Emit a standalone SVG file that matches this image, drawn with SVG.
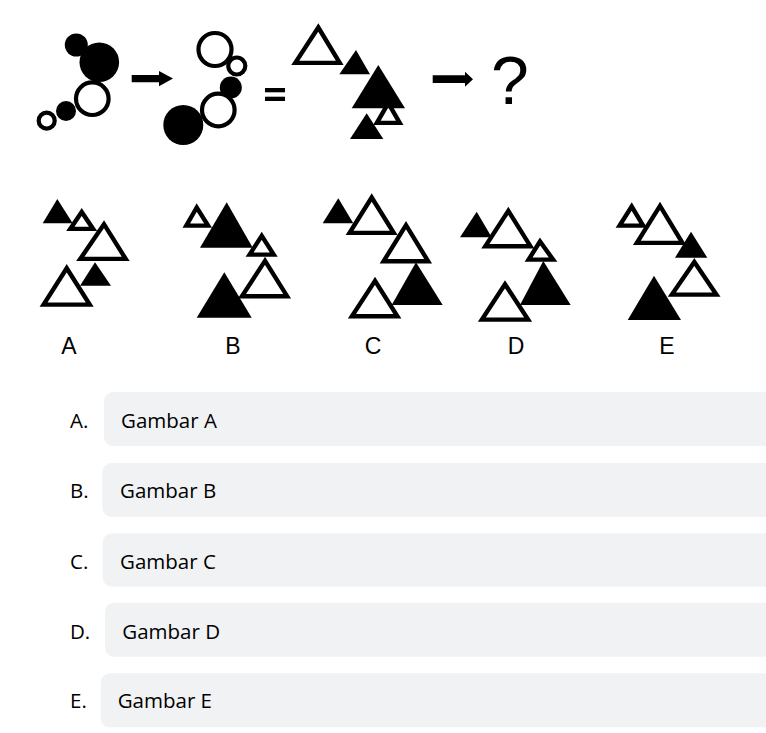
<svg xmlns="http://www.w3.org/2000/svg" width="766" height="733" viewBox="0 0 766 733">
<style>
.b{fill:#000}
.w{fill:#fff;stroke:#000;stroke-width:4.4;stroke-linejoin:miter}
.wc{fill:#fff;stroke:#000;stroke-width:4.2}
.lbl{font-family:"Liberation Sans",Arial,sans-serif;font-size:23px;fill:#000;text-anchor:middle}
.opt{font-family:"Open Sans","Noto Sans",sans-serif;font-size:20.5px;fill:#000}
.box{fill:#f1f2f4}
</style>
<rect width="766" height="733" fill="#fff"/>
<g id="question">
  <g id="fig1">
    <circle class="b" cx="76.3" cy="45" r="11.5"/>
    <circle class="b" cx="99.3" cy="62.2" r="19.8"/>
    <circle class="b" cx="66" cy="111" r="10"/>
    <circle class="wc" cx="92.3" cy="98.7" r="16.3"/>
    <circle class="wc" cx="46.7" cy="120.7" r="8"/>
  </g>
  <path id="arrow1" class="b" d="M131.7,75 H159 V71 L173,78.6 L159,86.2 V82.2 H131.7 Z"/>
  <g id="fig2">
    <circle class="b" cx="230.8" cy="87.5" r="11"/>
    <circle class="b" cx="183.3" cy="125" r="20"/>
    <circle class="wc" cx="215" cy="49.5" r="16.5"/>
    <circle class="wc" cx="236.8" cy="66" r="8.5"/>
    <circle class="wc" cx="218.3" cy="110" r="16.3"/>
  </g>
  <g id="equals" class="b">
    <rect x="265" y="88" width="20" height="4.3"/>
    <rect x="265" y="96.7" width="20" height="4.3"/>
  </g>
  <g id="fig3">
    <polygon class="w" points="318.3,27.5 295.3,62.9 339.7,62.9"/>
    <polygon class="b" points="356,50 339.3,74.3 370,74.3"/>
    <polygon class="w" points="388.3,103.2 376.9,122.9 399.7,122.9"/>
    <polygon class="b" points="378.3,65 351.7,108.3 405,108.3"/>
    <polygon class="b" points="366.7,113.3 350,139 383.3,139"/>
  </g>
  <path id="arrow2" class="b" d="M432.7,75.3 H465 V71.7 L473,79.2 L465,86.7 V83.1 H432.7 Z"/>
  <text x="510" y="104" font-family="'Liberation Sans',Arial,sans-serif" font-size="68" text-anchor="middle" fill="#000">?</text>
</g>
<g id="optA">
  <polygon class="b" points="57.3,199 42.7,223.3 72.7,223.3"/>
  <polygon class="w" points="81.7,211.9 70.3,228.9 93.1,228.9"/>
  <polygon class="w" points="104,224.2 80.3,258.9 125.7,258.9"/>
  <polygon class="b" points="95,262.3 80,285.7 111,285.7"/>
  <polygon class="w" points="66.7,268.2 43.6,304.6 89.7,304.6"/>
  <text class="lbl" x="69" y="354">A</text>
</g>
<g id="optB">
  <polygon class="w" points="196.7,207.5 186.3,225.6 208.1,225.6"/>
  <polygon class="b" points="226.7,202.3 200,247.7 252.7,247.7"/>
  <polygon class="w" points="261.7,235.9 249.6,254.6 273.7,254.6"/>
  <polygon class="b" points="224.3,272.3 196.7,317.7 251.7,317.7"/>
  <polygon class="w" points="265,260.9 241.9,296.2 287.1,296.2"/>
  <text class="lbl" x="233" y="354">B</text>
</g>
<g id="optC">
  <polygon class="b" points="338.3,198.3 322.7,223.3 353.3,223.3"/>
  <polygon class="w" points="371.7,197.5 349.6,232.9 393.7,232.9"/>
  <polygon class="w" points="406,225.2 383.6,261.2 428.1,261.2"/>
  <polygon class="b" points="416,262.3 391.7,305 442.7,305"/>
  <polygon class="w" points="375,280.9 351.9,316.2 397.4,316.2"/>
  <text class="lbl" x="373" y="354">C</text>
</g>
<g id="optD">
  <polygon class="b" points="476.7,211.7 460,237.3 491.7,237.3"/>
  <polygon class="w" points="508.3,210.9 485.3,246.2 530.4,246.2"/>
  <polygon class="w" points="540,241.5 528.6,259.6 553.1,259.6"/>
  <polygon class="b" points="543.3,261 520,305 570.7,305"/>
  <polygon class="w" points="505,284.2 481.9,319.6 528.1,319.6"/>
  <text class="lbl" x="516" y="354">D</text>
</g>
<g id="optE">
  <polygon class="w" points="631.7,206.5 619.6,225.6 643.1,225.6"/>
  <polygon class="w" points="660,205.9 636.9,242.9 682.4,242.9"/>
  <polygon class="b" points="691,231.7 675,257.7 707.3,257.7"/>
  <polygon class="b" points="654,275.7 627.7,320 681,320"/>
  <polygon class="w" points="694.3,261.9 671.9,294.6 716.4,294.6"/>
  <text class="lbl" x="667" y="354">E</text>
</g>
<g id="answerA">
  <rect class="box" x="104" y="392" width="680" height="54" rx="9"/>
  <text class="opt" x="70" y="428">A.</text>
  <text class="opt" x="121" y="428">Gambar A</text>
</g>
<g id="answerB">
  <rect class="box" x="102.3" y="463" width="680" height="54" rx="9"/>
  <text class="opt" x="70" y="498">B.</text>
  <text class="opt" x="120" y="498">Gambar B</text>
</g>
<g id="answerC">
  <rect class="box" x="102.7" y="533.3" width="680" height="53.4" rx="9"/>
  <text class="opt" x="70" y="569">C.</text>
  <text class="opt" x="120" y="569">Gambar C</text>
</g>
<g id="answerD">
  <rect class="box" x="105" y="602.7" width="680" height="54" rx="9"/>
  <text class="opt" x="70" y="639">D.</text>
  <text class="opt" x="122.3" y="639">Gambar D</text>
</g>
<g id="answerE">
  <rect class="box" x="100.7" y="673.3" width="680" height="54" rx="9"/>
  <text class="opt" x="70" y="708.3">E.</text>
  <text class="opt" x="117.7" y="708.3">Gambar E</text>
</g>
</svg>
